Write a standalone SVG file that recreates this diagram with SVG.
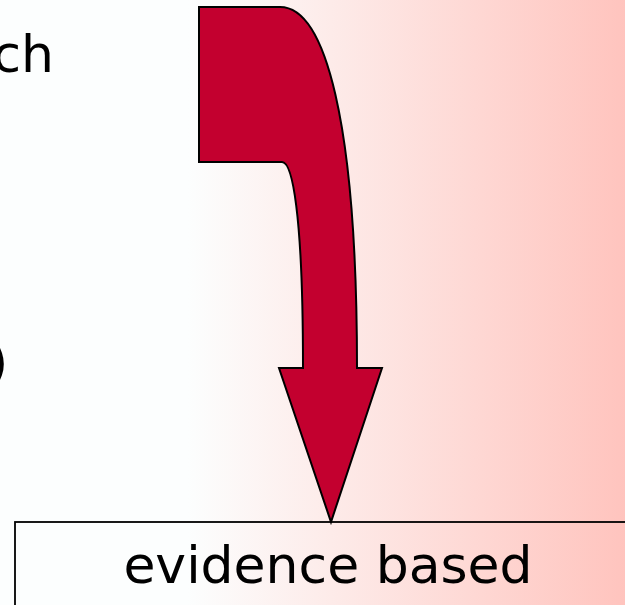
<svg xmlns="http://www.w3.org/2000/svg" width="625" height="605" viewBox="0 0 625 605">
  <defs>
    <linearGradient id="bg" x1="0" y1="0" x2="625" y2="0" gradientUnits="userSpaceOnUse">
      <stop offset="0" stop-color="#FCFEFE"/>
      <stop offset="0.3" stop-color="#FCFEFE"/>
      <stop offset="1" stop-color="#FFC4BE"/>
    </linearGradient>
  </defs>
  <style>
    .txt { font-family: "DejaVu Sans", Verdana, sans-serif; font-size: 52px; fill: #000000; }
    .arrow { fill: #C3002F; stroke: #000000; stroke-width: 2; stroke-linejoin: miter; }
    .box { fill: none; stroke: #000000; stroke-width: 1.8; }
  </style>
  <rect x="0" y="0" width="625" height="605" fill="url(#bg)"/>
  <g id="text-ch">
    <text class="txt" x="54" y="72" text-anchor="end">ch</text>
  </g>
  <g id="text-paren">
    <text class="txt" x="-12" y="380">)</text>
  </g>
  <g id="connectors">
    <path id="curved-arrow" class="arrow" d="M199,7 L280,7 C325,7 357,120 357,368 L382,368 L331,522 L279,368 L303,368 C303,210 292,162 282,162 L199,162 Z"/>
  </g>
  <g id="node-evidence">
    <rect class="box" x="15" y="522" width="640" height="120"/>
    <text class="txt" x="328" y="583" text-anchor="middle">evidence based</text>
  </g>
</svg>
